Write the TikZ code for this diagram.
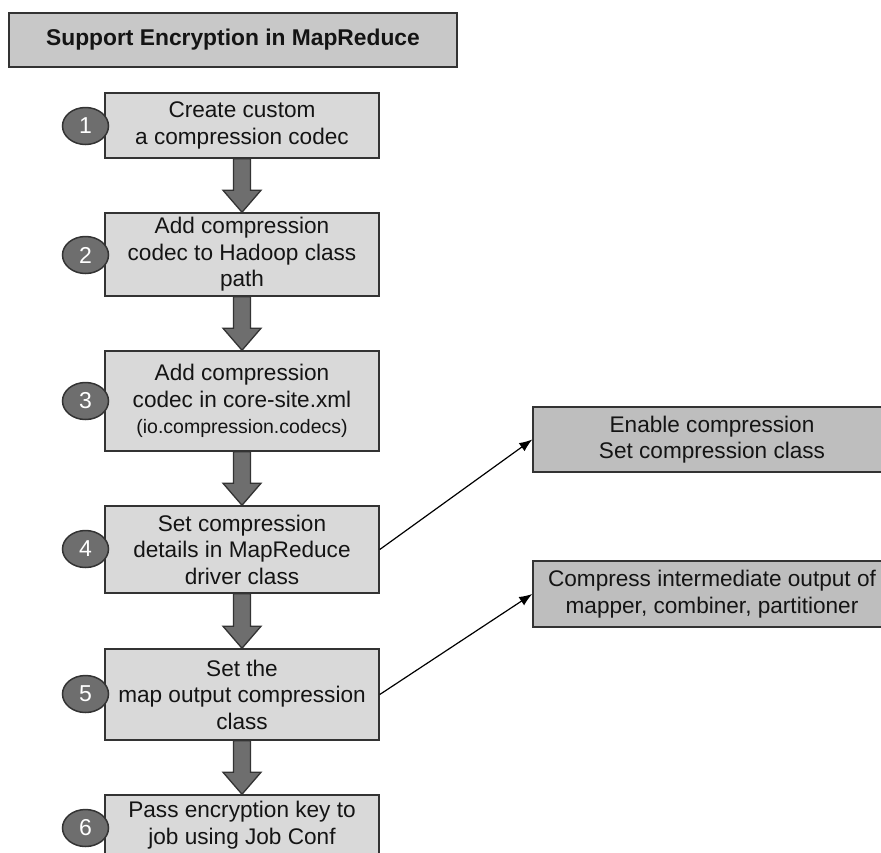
\documentclass[tikz,border=0pt]{standalone}
\usepackage{fontspec}
\setmainfont{Liberation Sans}
\usetikzlibrary{calc,arrows.meta,shapes.geometric}

\definecolor{stepfill}{HTML}{D9D9D9}
\definecolor{titlefill}{HTML}{C8C8C8}
\definecolor{sidefill}{HTML}{BEBEBE}
\definecolor{darkfill}{HTML}{6E6E6E}
\definecolor{edge}{HTML}{333333}
\definecolor{ink}{HTML}{141414}

\tikzset{
  basebox/.style={draw=edge, line width=1.5pt, inner sep=0pt, align=center,
    text=ink, font=\fontsize{22.6}{26.5}\selectfont},
  titlebox/.style={basebox, fill=titlefill, minimum width=448, minimum height=54,
    font=\fontsize{22.8}{26.5}\selectfont\bfseries},
  stepbox/.style={basebox, fill=stepfill, minimum width=274},
  sidebox/.style={basebox, fill=sidefill, minimum width=358},
  numdot/.style={ellipse, draw=edge, line width=1.5pt, fill=darkfill, inner sep=0pt,
    minimum width=46, minimum height=37, text=white,
    font=\fontsize{23}{24}\selectfont},
  bigarrow/.style={draw=edge, line width=1.3pt, fill=darkfill, line join=miter,
    to path={let \p1=(\tikztostart), \p2=(\tikztotarget) in
      (\x1-8.5pt,\y1) -- (\x1-8.5pt,\y2+22pt) -- (\x1-19pt,\y2+22pt) -- (\x1,\y2)
      -- (\x1+19pt,\y2+22pt) -- (\x1+8.5pt,\y2+22pt) -- (\x1+8.5pt,\y1) -- cycle}},
  thinarrow/.style={draw=black, line width=1.2pt, -{Latex[length=13pt,width=10pt]}}
}

\begin{document}
\begin{tikzpicture}[x=1pt,y=-1pt]
\useasboundingbox (0,0) rectangle (881,852);
\clip (0,0) rectangle (881,852);
\fill[white] (0,0) rectangle (881,852);

% heading
\node[titlebox] (title) at (233,40) {Support Encryption in MapReduce};

% main steps
\node[stepbox, minimum height=65] (b1) at (242,125.5)
  {Create custom\\a compression codec};
\node[stepbox, minimum height=83] (b2) at (242,254.5)
  {Add compression\\codec to Hadoop class\\path};
\node[stepbox, minimum height=100] (b3) at (242,401)
  {Add compression\\codec in core-site.xml\\{\fontsize{19.5}{22}\selectfont (io.compression.codecs)}};
\node[stepbox, minimum height=87] (b4) at (242,549.5)
  {Set compression\\details in MapReduce\\driver class};
\node[stepbox, minimum height=91] (b5) at (242,694.5)
  {Set the\\map output compression\\class};
\node[stepbox, minimum height=60] (b6) at (242,825)
  {Pass encryption key to\\job using Job Conf};

% side notes
\node[sidebox, minimum height=65] (sa) at (712,439.5)
  {Enable compression\\Set compression class};
\node[sidebox, minimum height=66] (sb) at (712,594)
  {Compress intermediate output of\\mapper, combiner, partitioner};

% step numbers
\node[numdot] (n1) at (85.5,126) {1};
\node[numdot] (n2) at (85.5,255) {2};
\node[numdot] (n3) at (85.5,401) {3};
\node[numdot] (n4) at (85.5,549) {4};
\node[numdot] (n5) at (85.5,694) {5};
\node[numdot] (n6) at (85.5,828) {6};

% flow between steps
\draw[bigarrow] (b1.south) to (b2.north);
\draw[bigarrow] (b2.south) to (b3.north);
\draw[bigarrow] (b3.south) to (b4.north);
\draw[bigarrow] (b4.south) to (b5.north);
\draw[bigarrow] (b5.south) to (b6.north);

% links to side notes
\draw[thinarrow] (b4.east) -- (sa.west);
\draw[thinarrow] (b5.east) -- (sb.west);
\end{tikzpicture}
\end{document}
